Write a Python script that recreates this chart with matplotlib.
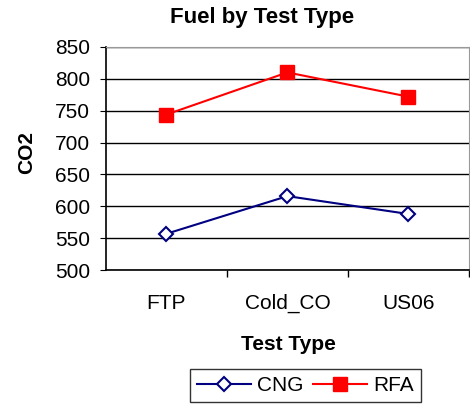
import matplotlib
matplotlib.use("Agg")
import matplotlib.pyplot as plt

plt.rcParams['font.family'] = ['Liberation Sans', 'DejaVu Sans']

# --------- DATA ----------
test_types = ["FTP", "Cold_CO", "US06"]
cng = [557, 616, 588]
rfa = [744, 810, 772]
y_ticks = [500, 550, 600, 650, 700, 750, 800, 850]

# --------- FIGURE ----------
fig = plt.figure(figsize=(4.7, 4.08), dpi=100)
ax = fig.add_axes([0.2255, 0.338, 0.772, 0.547])

x = range(len(test_types))
ax.plot(x, cng, color="#000080", lw=1.5, marker="D", ms=7,
        mfc="white", mec="#000080", mew=1.5, label="CNG")
ax.plot(x, rfa, color="#ff0000", lw=1.5, marker="s", ms=10,
        mfc="#ff0000", mec="#ff0000", label="RFA")

ax.set_xlim(-0.5, 2.5)
ax.set_ylim(500, 850)
ax.set_yticks(y_ticks)
ax.yaxis.grid(True, color="black", lw=1)
ax.set_axisbelow(True)

ax.set_xticks(list(x))
ax.set_xticklabels(test_types, fontsize=15)
ax.tick_params(axis="x", length=0, pad=17)
ax.set_xticks([0.5, 1.5, 2.5], minor=True)
ax.tick_params(axis="x", which="minor", length=5, width=1, color="black")
ax.tick_params(axis="y", labelsize=15, length=4.5, pad=7, color="black")

for s in ["top", "right"]:
    ax.spines[s].set_color("#999999")
for s in ["left", "bottom"]:
    ax.spines[s].set_color("black")
    ax.spines[s].set_linewidth(1.2)

fig.text(262 / 470, 1 - 18 / 408, "Fuel by Test Type", fontsize=16,
         fontweight="bold", ha="center", va="center")
fig.text(27 / 470, 1 - 153 / 408, "CO2", fontsize=15, fontweight="bold",
         rotation=90, ha="center", va="center")
fig.text(288 / 470, 1 - 345 / 408, "Test Type", fontsize=15,
         fontweight="bold", ha="center", va="center")

leg = fig.legend(loc="center", bbox_to_anchor=(0.65, 0.055), ncol=2,
                 fontsize=15, frameon=True, fancybox=False,
                 edgecolor="black", handlelength=2.6, columnspacing=0.45,
                 handletextpad=0.3, borderpad=0.35)
leg.get_frame().set_linewidth(1)

fig.savefig("out.png", dpi=100)
